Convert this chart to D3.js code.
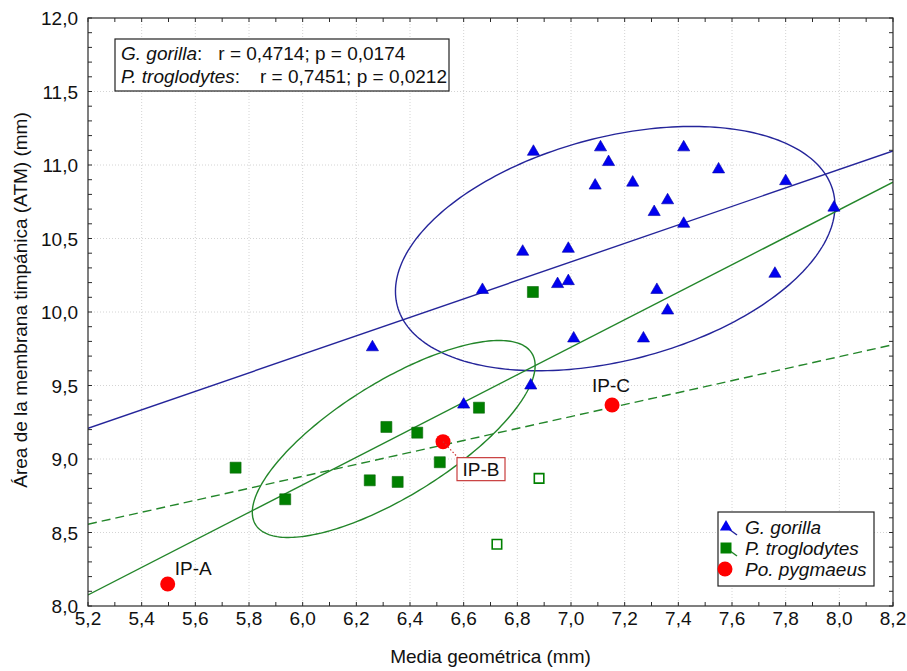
<!DOCTYPE html>
<html>
<head>
<meta charset="utf-8">
<script src="https://cdn.jsdelivr.net/npm/d3@7"></script>
<style>
  body { margin: 0; background: #fff; }
  svg text { font-family: "Liberation Sans", Arial, sans-serif; fill: #111; }
</style>
</head>
<body>
<svg id="chart" width="907" height="671"></svg>
<script>
// G. gorilla
const gorillaX = [6.26, 6.60, 6.67, 6.82, 6.86, 6.85, 6.95, 6.99, 6.99, 7.01, 7.09, 7.11, 7.14,
                  7.23, 7.27, 7.31, 7.32, 7.36, 7.36, 7.42, 7.42, 7.55, 7.76, 7.80, 7.98];
const gorillaY = [9.76, 9.37, 10.15, 10.41, 11.09, 9.50, 10.19, 10.21, 10.43, 9.82, 10.86, 11.12, 11.02,
                  10.88, 9.82, 10.68, 10.15, 10.76, 10.01, 10.60, 11.12, 10.97, 10.26, 10.89, 10.71];

// P. troglodytes (filled) and the two open-square specimens
const troglodytesX = [5.75, 5.935, 6.25, 6.354, 6.312, 6.427, 6.511, 6.657, 6.858];
const troglodytesY = [8.941, 8.726, 8.855, 8.844, 9.218, 9.179, 8.978, 9.349, 10.136];
const troglodytesOpenX = [6.724, 6.881];
const troglodytesOpenY = [8.42, 8.868];

// Po. pygmaeus
const pygmaeusLabels = ["IP-A", "IP-B", "IP-C"];
const pygmaeusX = [5.497, 6.523, 7.153];
const pygmaeusY = [8.15, 9.118, 9.367];

// Fitted lines: intercept, slope
const gorillaFit = [5.938, 0.629];
const troglodytesFit = [3.208, 0.936];
const troglodytesDashedFit = [6.440, 0.407];

// Ellipses: half-extent in x, half-extent in y, correlation
const gorillaEllipse = [0.819, 0.831, 0.35];
const troglodytesEllipse = [0.527, 0.670, 0.745];

// Axis ticks
const xTicks = d3.range(0, 16).map(i => +(5.2 + i * 0.2).toFixed(1));
const yTicks = d3.range(0, 9).map(i => +(8 + i * 0.5).toFixed(1));
const xMinorTicks = d3.range(0, 31).map(i => +(5.2 + i * 0.1).toFixed(2));
const yMinorTicks = d3.range(0, 41).map(i => +(8 + i * 0.1).toFixed(2));

const statsLines = [
  { species: "G. gorilla", text: "r = 0,4714; p = 0,0174" },
  { species: "P. troglodytes", text: "r = 0,7451; p = 0,0212" }
];
const legendItems = ["G. gorilla", "P. troglodytes", "Po. pygmaeus"];

const blue = "#0000f0", blueLine = "#25259a";
const green = "#008000", greenLine = "#23862a";
const red = "#ff0000";

const svg = d3.select("#chart");
const L = 88, R = 893, T = 18, B = 606;
const x = d3.scaleLinear().domain([5.2, 8.2]).range([L, R]);
const y = d3.scaleLinear().domain([8, 12]).range([B, T]);
const fmt = v => d3.format(".1f")(v).replace(".", ",");

// grid
const grid = svg.append("g").attr("stroke", "#d4d4d4").attr("stroke-width", 1).attr("stroke-dasharray", "1,2");
grid.selectAll("line.vx").data(xTicks.slice(1, -1)).join("line")
  .attr("x1", d => x(d)).attr("x2", d => x(d)).attr("y1", T).attr("y2", B);
grid.selectAll("line.hy").data(yTicks.slice(1, -1)).join("line")
  .attr("y1", d => y(d)).attr("y2", d => y(d)).attr("x1", L).attr("x2", R);

svg.append("clipPath").attr("id", "plot").append("rect")
  .attr("x", L).attr("y", T).attr("width", R - L).attr("height", B - T);
const plot = svg.append("g").attr("clip-path", "url(#plot)");

// ellipses centred on group means
function ellipsePath(xs, ys, e) {
  const cx = d3.mean(xs), cy = d3.mean(ys);
  const delta = Math.acos(e[2]);
  const pts = d3.range(0, 241).map(i => {
    const t = i / 240 * 2 * Math.PI;
    return [x(cx + e[0] * Math.cos(t)), y(cy + e[1] * Math.cos(t - delta))];
  });
  return d3.line()(pts);
}
plot.append("path").attr("d", ellipsePath(gorillaX, gorillaY, gorillaEllipse))
  .attr("fill", "none").attr("stroke", blueLine).attr("stroke-width", 1.4);
plot.append("path").attr("d", ellipsePath(troglodytesX, troglodytesY, troglodytesEllipse))
  .attr("fill", "none").attr("stroke", greenLine).attr("stroke-width", 1.4);

// fitted lines
function fitLine(f, color, dash) {
  const xs = x.domain();
  plot.append("line")
    .attr("x1", x(xs[0])).attr("y1", y(f[0] + f[1] * xs[0]))
    .attr("x2", x(xs[1])).attr("y2", y(f[0] + f[1] * xs[1]))
    .attr("stroke", color).attr("stroke-width", 1.4)
    .attr("stroke-dasharray", dash || null);
}
fitLine(gorillaFit, blueLine);
fitLine(troglodytesFit, greenLine);
fitLine(troglodytesDashedFit, greenLine, "9,5");

// markers
const tri = d3.symbol(d3.symbolTriangle, 64);
const sq = d3.symbol(d3.symbolSquare, 121);
const sqOpen = d3.symbol(d3.symbolSquare, 90);

plot.selectAll("path.trog").data(troglodytesX).join("path")
  .attr("d", sq).attr("transform", (d, i) => `translate(${x(d)},${y(troglodytesY[i])})`)
  .attr("fill", green).attr("stroke", "#0a6a0a").attr("stroke-width", 0.6);
plot.selectAll("path.trogOpen").data(troglodytesOpenX).join("path")
  .attr("d", sqOpen).attr("transform", (d, i) => `translate(${x(d)},${y(troglodytesOpenY[i])})`)
  .attr("fill", "#fff").attr("stroke", green).attr("stroke-width", 1.6);
plot.selectAll("path.gor").data(gorillaX).join("path")
  .attr("d", tri).attr("transform", (d, i) => `translate(${x(d)},${y(gorillaY[i])})`)
  .attr("fill", blue).attr("stroke", "#0000a8").attr("stroke-width", 0.6);

// IP-B leader and box
const ipbX = x(pygmaeusX[1]), ipbY = y(pygmaeusY[1]);
svg.append("line").attr("x1", ipbX).attr("y1", ipbY).attr("x2", ipbX + 15).attr("y2", ipbY + 16)
  .attr("stroke", "#d03030").attr("stroke-width", 1.2).attr("stroke-dasharray", "1.5,2");

plot.selectAll("circle.pyg").data(pygmaeusX).join("circle")
  .attr("cx", d => x(d)).attr("cy", (d, i) => y(pygmaeusY[i])).attr("r", 7.5)
  .attr("fill", red);

// point labels
svg.append("text").attr("x", x(pygmaeusX[0]) + 7).attr("y", y(pygmaeusY[0]) - 9)
  .attr("font-size", 19).text(pygmaeusLabels[0]);
svg.append("rect").attr("x", ipbX + 14).attr("y", ipbY + 16).attr("width", 48).attr("height", 23)
  .attr("fill", "#fff").attr("stroke", "#c83c3c").attr("stroke-width", 1.2);
svg.append("text").attr("x", ipbX + 38).attr("y", ipbY + 34).attr("text-anchor", "middle")
  .attr("font-size", 19).text(pygmaeusLabels[1]);
svg.append("text").attr("x", x(pygmaeusX[2]) - 1).attr("y", y(pygmaeusY[2]) - 13).attr("text-anchor", "middle")
  .attr("font-size", 19).text(pygmaeusLabels[2]);

// frame and inward ticks
svg.append("rect").attr("x", L).attr("y", T).attr("width", R - L).attr("height", B - T)
  .attr("fill", "none").attr("stroke", "#2a2a2a").attr("stroke-width", 1.2);
const ticks = svg.append("g").attr("stroke", "#2a2a2a").attr("stroke-width", 1);
ticks.selectAll("line.xb").data(xMinorTicks).join("line")
  .attr("x1", d => x(d)).attr("x2", d => x(d)).attr("y1", B).attr("y2", B - 4);
ticks.selectAll("line.xt").data(xMinorTicks).join("line")
  .attr("x1", d => x(d)).attr("x2", d => x(d)).attr("y1", T).attr("y2", T + 4);
ticks.selectAll("line.yl").data(yMinorTicks).join("line")
  .attr("y1", d => y(d)).attr("y2", d => y(d)).attr("x1", L).attr("x2", L + 4);
ticks.selectAll("line.yr").data(yMinorTicks).join("line")
  .attr("y1", d => y(d)).attr("y2", d => y(d)).attr("x1", R).attr("x2", R - 4);

// tick labels
svg.append("g").selectAll("text").data(xTicks).join("text")
  .attr("x", d => x(d)).attr("y", 625).attr("text-anchor", "middle")
  .attr("font-size", 19).text(fmt);
svg.append("g").selectAll("text").data(yTicks).join("text")
  .attr("x", 78).attr("y", d => y(d) + 7).attr("text-anchor", "end")
  .attr("font-size", 19).text(fmt);

// axis titles
svg.append("text").attr("x", (L + R) / 2).attr("y", 663).attr("text-anchor", "middle")
  .attr("font-size", 19).text("Media geométrica (mm)");
svg.append("text").attr("transform", "translate(27,300) rotate(-90)").attr("text-anchor", "middle")
  .attr("font-size", 19).text("Área de la membrana timpánica (ATM) (mm)");

// correlation box
svg.append("rect").attr("x", 115).attr("y", 39).attr("width", 334).attr("height", 52)
  .attr("fill", "#fff").attr("stroke", "#222").attr("stroke-width", 1.2);
const stats = svg.append("g").selectAll("text").data(statsLines).join("text")
  .attr("x", 121).attr("y", (d, i) => 59.5 + i * 23).attr("font-size", 19);
stats.append("tspan").attr("font-style", "italic").text(d => d.species);
stats.append("tspan").text(":");
stats.append("tspan").attr("dx", (d, i) => i === 0 ? 16 : 20).text(d => d.text);

// legend
svg.append("rect").attr("x", 718).attr("y", 512).attr("width", 156).attr("height", 74)
  .attr("fill", "#fff").attr("stroke", "#222").attr("stroke-width", 1.2);
const lg = svg.append("g");
const rowY = i => 527 + i * 21;
lg.append("line").attr("x1", 726).attr("y1", rowY(0)).attr("x2", 737).attr("y2", rowY(0) + 8)
  .attr("stroke", blueLine).attr("stroke-width", 1.4);
lg.append("path").attr("d", tri).attr("transform", `translate(726,${rowY(0)})`).attr("fill", blue);
lg.append("line").attr("x1", 726).attr("y1", rowY(1)).attr("x2", 737).attr("y2", rowY(1) + 8)
  .attr("stroke", greenLine).attr("stroke-width", 1.4);
lg.append("path").attr("d", sq).attr("transform", `translate(726,${rowY(1)})`).attr("fill", green);
lg.append("circle").attr("cx", 725).attr("cy", rowY(2)).attr("r", 7.5).attr("fill", red);
lg.selectAll("text").data(legendItems).join("text")
  .attr("x", 745).attr("y", (d, i) => rowY(i) + 7).attr("font-size", 19).attr("font-style", "italic")
  .text(d => d);
</script>
</body>
</html>
